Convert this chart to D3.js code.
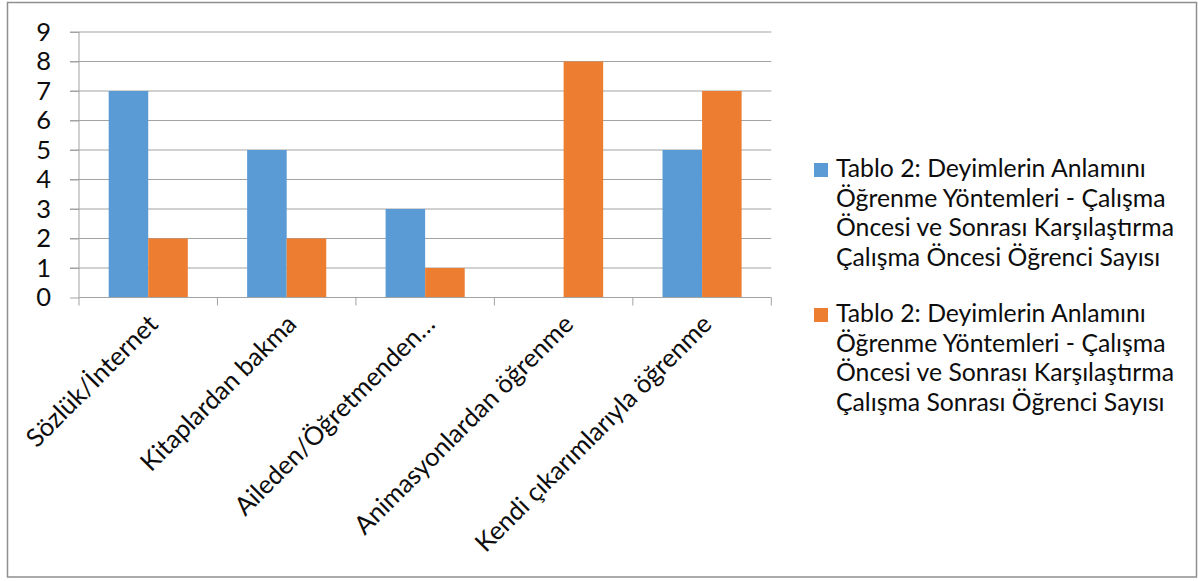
<!DOCTYPE html>
<html>
<head>
<meta charset="utf-8">
<script src="https://cdn.jsdelivr.net/npm/d3@7"></script>
<style>
  html, body { margin: 0; padding: 0; background: #fff; }
  svg { display: block; }
  text { font-family: "Lato", "Open Sans", sans-serif; fill: #0d0d0d; }
</style>
</head>
<body>
<svg id="chart" width="1198" height="581"></svg>
<script>
// Öğrenme yöntemleri ve öğrenci sayıları
const categories = [
  "Sözlük/İnternet",
  "Kitaplardan bakma",
  "Aileden/Öğretmenden…",
  "Animasyonlardan öğrenme",
  "Kendi çıkarımlarıyla öğrenme"
];
const seriesNames = [
  "Tablo 2: Deyimlerin Anlamını Öğrenme Yöntemleri - Çalışma Öncesi ve Sonrası Karşılaştırma Çalışma Öncesi Öğrenci Sayısı",
  "Tablo 2: Deyimlerin Anlamını Öğrenme Yöntemleri - Çalışma Öncesi ve Sonrası Karşılaştırma Çalışma Sonrası Öğrenci Sayısı"
];
const beforeValues = [7, 5, 3, 0, 5];
const afterValues  = [2, 2, 1, 8, 7];
const yTicks = [0, 1, 2, 3, 4, 5, 6, 7, 8, 9];
const colors = ["#5B9BD5", "#ED7D31"];

const seriesValues = [beforeValues, afterValues];

const svg = d3.select("#chart");

// outer frame
svg.append("rect")
  .attr("x", 7.5).attr("y", 2.5)
  .attr("width", 1189).attr("height", 574.5)
  .attr("fill", "#fff")
  .attr("stroke", "#8f8f8f")
  .attr("stroke-width", 1.5);

// text measuring helper
const measurer = svg.append("text").attr("x", -1000).attr("y", -1000);
function textWidth(str, size) {
  measurer.attr("font-size", size).text(str);
  return measurer.node().getComputedTextLength();
}

// font sizes fitted to the layout widths
const axisFont = 20 * 322 / textWidth(categories[4], 20);
const legendFont = 20 * 310 / textWidth("Tablo 2: Deyimlerin Anlamını", 20);

const plot = { left: 79, right: 771.3, top: 32, bottom: 297.5 };

const x = d3.scaleBand()
  .domain(categories)
  .range([plot.left, plot.right])
  .paddingInner(0).paddingOuter(0);

const xs = d3.scaleBand()
  .domain([0, 1])
  .range([0, x.bandwidth()])
  .paddingInner(0).paddingOuter(0.75);

const y = d3.scaleLinear()
  .domain([0, 9])
  .range([plot.bottom, plot.top]);

// horizontal gridlines (extend left as tick marks)
svg.append("g")
  .selectAll("line")
  .data(yTicks.filter(t => t > 0))
  .join("line")
  .attr("x1", plot.left - 9).attr("x2", plot.right)
  .attr("y1", d => y(d)).attr("y2", d => y(d))
  .attr("stroke", "#a3a3a3")
  .attr("stroke-width", 1);

// bars
const groups = svg.append("g")
  .selectAll("g")
  .data(seriesValues)
  .join("g")
  .attr("fill", (d, i) => colors[i]);

groups.selectAll("rect")
  .data((vals, si) => vals.map((v, ci) => ({ v, ci, si })))
  .join("rect")
  .attr("x", d => x(categories[d.ci]) + xs(d.si))
  .attr("width", xs.bandwidth())
  .attr("y", d => y(d.v))
  .attr("height", d => y(0) - y(d.v));

// y axis
const yAxis = d3.axisLeft(y)
  .tickValues(yTicks)
  .tickSize(9)
  .tickPadding(19)
  .tickFormat(d3.format("d"));

const yg = svg.append("g")
  .attr("transform", `translate(${plot.left},0)`)
  .call(yAxis);
yg.select(".domain").remove();
yg.selectAll(".tick line").attr("stroke", "#a3a3a3");
yg.selectAll(".tick text")
  .attr("font-size", axisFont)
  .attr("font-family", "Lato, 'Open Sans', sans-serif")
  .attr("fill", "#0d0d0d");
svg.append("line")
  .attr("x1", plot.left).attr("x2", plot.left)
  .attr("y1", plot.top).attr("y2", plot.bottom + 8)
  .attr("stroke", "#a3a3a3");

// x axis baseline and category tick marks
const xAxis = d3.axisBottom(x).tickSize(8).tickFormat("");
const xg = svg.append("g")
  .attr("transform", `translate(0,${plot.bottom})`)
  .call(xAxis);
xg.select(".domain").attr("stroke", "#a3a3a3").attr("d", `M${plot.left},0H${plot.right}`);
// ticks sit on band boundaries
xg.selectAll(".tick").remove();
const boundaries = categories.map(c => x(c) + x.bandwidth());
xg.selectAll("line.bound")
  .data(boundaries)
  .join("line")
  .attr("class", "bound")
  .attr("x1", d => d).attr("x2", d => d)
  .attr("y1", 0).attr("y2", 8)
  .attr("stroke", "#a3a3a3");

// rotated category labels
svg.append("g")
  .selectAll("text")
  .data(categories)
  .join("text")
  .attr("transform", d => `translate(${x(d) + x.bandwidth() / 2 + 5},${plot.bottom + 22}) rotate(-45)`)
  .attr("text-anchor", "end")
  .attr("dy", "0.35em")
  .attr("font-size", axisFont)
  .text(d => d);

// legend
function wrap(str, maxW, size) {
  const words = str.split(" ");
  const lines = [];
  let cur = "";
  words.forEach(w => {
    const t = cur ? cur + " " + w : w;
    if (cur && textWidth(t, size) > maxW) { lines.push(cur); cur = w; }
    else cur = t;
  });
  if (cur) lines.push(cur);
  return lines;
}

const legend = svg.append("g");
const lineGap = 29.7;
const entryGap = 145;
seriesNames.forEach((name, i) => {
  const top = 163 + i * entryGap;
  legend.append("rect")
    .attr("x", 814).attr("y", top)
    .attr("width", 14).attr("height", 14)
    .attr("fill", colors[i]);
  const lines = wrap(name, 348, legendFont);
  const t = legend.append("text")
    .attr("font-size", legendFont)
    .attr("x", 836);
  lines.forEach((ln, k) => {
    t.append("tspan")
      .attr("x", 836)
      .attr("y", top + 14 + k * lineGap)
      .text(ln);
  });
});

measurer.remove();
</script>
</body>
</html>
